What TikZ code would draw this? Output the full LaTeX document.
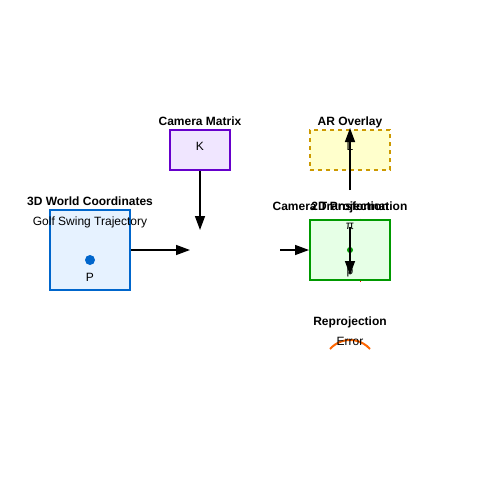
\documentclass[tikz,border=0pt]{standalone}
\usepackage{fontspec}
\setmainfont{Liberation Sans}
\usetikzlibrary{arrows.meta}
\definecolor{worldblue}{HTML}{0066CC}
\definecolor{worldfill}{HTML}{E6F2FF}
\definecolor{matpurple}{HTML}{6600CC}
\definecolor{matfill}{HTML}{F0E6FF}
\definecolor{projgreen}{HTML}{009900}
\definecolor{projfill}{HTML}{E6FFE6}
\definecolor{argold}{HTML}{CC9900}
\definecolor{arfill}{HTML}{FFFFCC}
\definecolor{errorange}{HTML}{FF6600}
\tikzset{
  box/.style={draw, line width=1.5pt, inner sep=0pt},
  title/.style={anchor=base, inner sep=0pt, font=\fontsize{9}{10}\selectfont\bfseries},
  label/.style={anchor=base, inner sep=0pt, font=\fontsize{9}{10}\selectfont},
  arr/.style={line width=1.1pt, -{Triangle[length=10.5pt,width=7.5pt]}}
}
\begin{document}
\begin{tikzpicture}[x=0.75pt,y=-0.75pt]
  \useasboundingbox (0,0) rectangle (500,500);
  \draw[red, line width=0.4pt] (360,218.5) -- (360,281.5);
  \node[box, draw=worldblue, fill=worldfill, minimum width=60pt, minimum height=60pt] (world) at (90,250) {};
  \node[box, draw=matpurple, fill=matfill, minimum width=45pt, minimum height=30pt] (matrix) at (200,150) {};
  \node[box, draw=projgreen, fill=projfill, minimum width=60pt, minimum height=45pt] (proj) at (350,250) {};
  \node[box, draw=argold, fill=arfill, dashed, minimum width=60pt, minimum height=30pt] (overlay) at (350,150) {};
  \node[title] (worldtitle) at (90,205) {3D World Coordinates};
  \node[label] (worldsub) at (90,225) {Golf Swing Trajectory};
  \fill[worldblue] (90,260) circle (3.75pt);
  \node[label] (ptP) at (90,281) {P};
  \node[title] (matrixtitle) at (200,125) {Camera Matrix};
  \node[label] (matK) at (200,150) {K};
  \node[title] (overlaytitle) at (350,125) {AR Overlay};
  \node[label] (overlayL) at (350,150) {L};
  \node[title] (camtitle) at (340,210) {Camera Transformation};
  \node[title] (projtitle) at (350,210) {2D Projection};
  \node[label] (pi) at (350,229) {π};
  \fill[projgreen] (350,250) circle (2.25pt);
  \node[label] (ptp) at (350,274) {p};
  \draw[errorange, line width=1.5pt] (330,349) arc[start angle=221.5, end angle=318.5, radius=26.7];
  \node[title] (errtitle) at (350,325) {Reprojection};
  \node[label] (errsub) at (350,345) {Error};
  \coordinate (mid) at (190,250);
  \coordinate (midin) at (280,250);
  \coordinate (down) at (200,230);
  \coordinate (up) at (350,190);
  \coordinate (pitop) at (350,227);
  \coordinate (ptip) at (350,275);
  \draw[arr] (matrix.south) -- (down);
  \draw[arr] (world.east) -- (mid);
  \draw[arr] (midin) -- (proj.west);
  \draw[arr] (pitop) -- (ptip);
  \draw[arr] (up) -- ([yshift=0.75pt]overlay.north);
\end{tikzpicture}
\end{document}
